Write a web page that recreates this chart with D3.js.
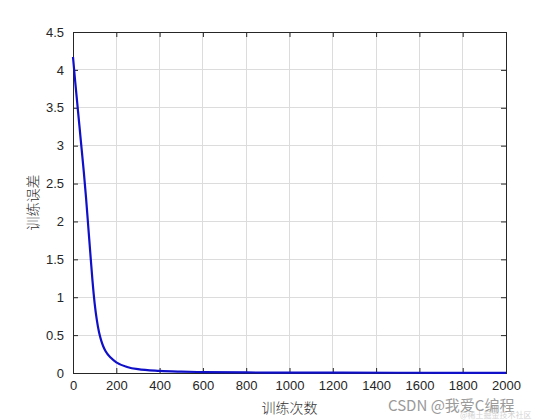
<!DOCTYPE html>
<html><head><meta charset="utf-8">
<script src="https://cdn.jsdelivr.net/npm/d3@7"></script>
<style>body{margin:0;background:#fff}svg{display:block}</style>
</head><body>
<script>
const epochs = [0, 10, 20, 30, 40, 50, 60, 70, 80, 90, 100, 110, 120, 130, 140, 150, 175, 200, 250, 300, 400, 500, 600, 800, 1000, 1500, 2000];
const errors = [4.17, 3.85, 3.55, 3.25, 2.95, 2.65, 2.32, 1.95, 1.58, 1.22, 0.92, 0.70, 0.54, 0.43, 0.35, 0.29, 0.20, 0.14, 0.08, 0.05, 0.028, 0.018, 0.012, 0.007, 0.005, 0.003, 0.002];
const xTicks = [0,200,400,600,800,1000,1200,1400,1600,1800,2000];
const yTicks = [0,0.5,1,1.5,2,2.5,3,3.5,4,4.5];
const xLabel = "训练次数", yLabel = "训练误差";

const W=560,H=420, L=73,R=506,T=32,B=373;
const svg=d3.select("body").append("svg").attr("width",W).attr("height",H);
const x=d3.scaleLinear().domain([0,2000]).range([L,R]);
const y=d3.scaleLinear().domain([0,4.5]).range([B,T]);
const axc="#262626", font="'Liberation Sans', Arial, sans-serif";

// grid
svg.append("g").selectAll("line").data(xTicks).join("line")
 .attr("x1",d=>x(d)).attr("x2",d=>x(d)).attr("y1",T).attr("y2",B)
 .attr("stroke","#dcdcdc").attr("stroke-width",1).attr("shape-rendering","crispEdges");
svg.append("g").selectAll("line").data(yTicks).join("line")
 .attr("y1",d=>y(d)).attr("y2",d=>y(d)).attr("x1",L).attr("x2",R)
 .attr("stroke","#dcdcdc").attr("stroke-width",1).attr("shape-rendering","crispEdges");

// axes
const ax=(g,a)=>{g.call(a);g.select(".domain").remove();g.selectAll("line").attr("stroke",axc);
  g.selectAll("text").attr("fill",axc).style("font-family",font).style("font-size","13px");};
svg.append("g").attr("transform",`translate(0,${B})`).call(g=>ax(g,d3.axisBottom(x).tickValues(xTicks).tickSizeInner(-5).tickPadding(8).tickFormat(d3.format("d"))));
svg.append("g").attr("transform",`translate(${L},0)`).call(g=>ax(g,d3.axisLeft(y).tickValues(yTicks).tickSizeInner(-5).tickPadding(9).tickFormat(d=>String(d))));
svg.append("g").attr("transform",`translate(0,${T})`).call(g=>ax(g,d3.axisTop(x).tickValues(xTicks).tickSizeInner(-5).tickFormat("")));
svg.append("g").attr("transform",`translate(${R},0)`).call(g=>ax(g,d3.axisRight(y).tickValues(yTicks).tickSizeInner(-5).tickFormat("")));
svg.append("rect").attr("x",L).attr("y",T).attr("width",R-L).attr("height",B-T)
 .attr("fill","none").attr("stroke",axc).attr("stroke-width",1).attr("shape-rendering","crispEdges");

// line
const data=epochs.map((e,i)=>[e,errors[i]]);
svg.append("path").datum(data).attr("fill","none").attr("stroke","#1010c8").attr("stroke-width",2.2)
 .attr("stroke-linejoin","round")
 .attr("d",d3.line().x(d=>x(d[0])).y(d=>y(d[1])).curve(d3.curveMonotoneX));

// labels
svg.append("text").attr("x",(L+R)/2).attr("y",413).attr("text-anchor","middle")
 .attr("fill","#333").style("font-family","'Noto Sans CJK SC'").style("font-size","14px").style("font-weight","300").text(xLabel);
svg.append("text").attr("transform",`translate(38,${(T+B)/2}) rotate(-90)`).attr("text-anchor","middle")
 .attr("fill","#333").style("font-family","'Noto Sans CJK SC'").style("font-size","14px").style("font-weight","300").text(yLabel);

// watermark
svg.append("text").attr("x",388).attr("y",411).attr("fill","#9a9a9a")
 .style("font-family","'Noto Sans CJK SC', sans-serif").style("font-size","15px").text("CSDN @我爱C编程");
svg.append("text").attr("x",460).attr("y",418).attr("fill","#d4d4d4")
 .style("font-family","'Noto Sans CJK SC', sans-serif").style("font-size","8px").text("@稀土掘金技术社区");
</script>
</body></html>
